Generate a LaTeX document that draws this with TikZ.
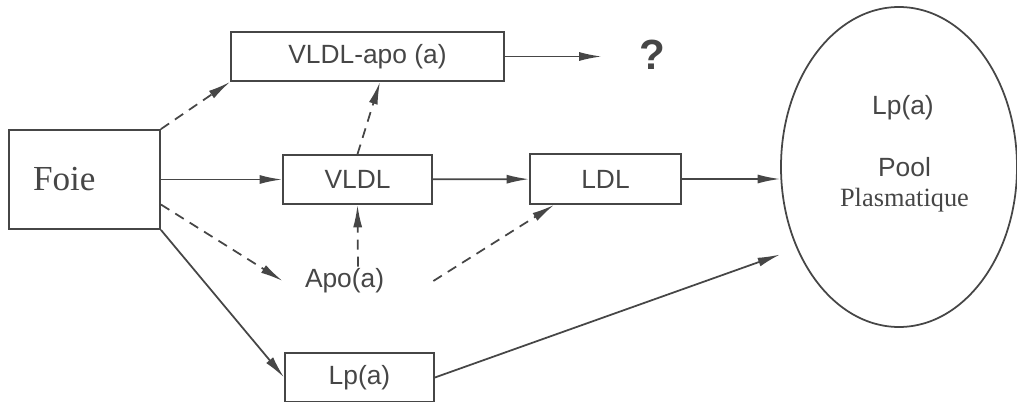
\documentclass[tikz,border=0pt]{standalone}
\usepackage{fontspec}
\setmainfont{Liberation Serif}
\setsansfont{Liberation Sans}
\usetikzlibrary{positioning, arrows.meta, shapes.geometric}
\definecolor{ink}{RGB}{70,70,70}
\tikzset{
block/.style={
  draw=ink, 
  rectangle, 
  line width=1pt,
  minimum height=0.98cm, 
  minimum width=2.98cm, align=center,
  font=\sffamily\fontsize{15}{18}\selectfont, text=ink
  }, 
label/.style={text=ink, font=\sffamily\fontsize{15}{17}\selectfont, align=center},
line/.style={-{Latex[length=4.5mm,width=1.8mm]}, draw=ink, line width=1pt},
dline/.style={line, dash pattern=on 2mm off 1.4mm}
}

\begin{document}
\begin{tikzpicture}
\useasboundingbox (0,0) rectangle (20.34,8.02);
\node[block, minimum height=1.98cm, inner xsep=0.48cm, text width=2.06cm, align=left, font=\rmfamily\fontsize{20}{24}\selectfont] (foie) at (1.69,4.43) {Foie};
\node[block] (vldl) at (7.15,4.43) {VLDL};
\node[block, minimum width=5.46cm] (vldlapo) at (7.35,6.89) {VLDL-apo (a)};
\node[block, minimum width=3.02cm, minimum height=1cm] (ldl) at (12.11,4.44) {LDL};
\node[block] (lpbox) at (7.19,0.47) {Lp(a)};
\node[label, minimum height=0.56cm, inner ysep=0pt, inner xsep=0.44cm, text width=2.12cm, align=left] (apo) at (7.16,2.4) {Apo(a)};
\node[label, font=\sffamily\bfseries\fontsize{24}{28}\selectfont, minimum width=2cm] (quest) at (13.04,6.92) {?};
\node[draw=ink, line width=1pt, ellipse, minimum width=4.72cm, minimum height=6.4cm, inner sep=0pt] (pool) at (17.98,4.68) {};
\node[label] (poolname) at (18.06,5.86) {Lp(a)};
\node[label] (poollabel) at (18.09,4.32) {Pool\\{\rmfamily Plasmatique}};

\draw[dline] (foie.north east) -- (vldlapo.south west);
\draw[line] (foie) -- (vldl);
\draw[dline] ([yshift=-0.5cm]foie.east) -- (apo.west);
\draw[line] (foie.south east) -- (lpbox.west);
\draw[line] (vldlapo.east) -- (vldlapo.east -| quest.west);
\draw[dline] (vldl.north) -- ([xshift=0.25cm]vldlapo.south);
\draw[line] (vldl) -- (ldl);
\draw[dline] (apo.north) -- (vldl.south);
\draw[dline] (apo.east) -- ([xshift=0.5cm]ldl.south west);
\draw[line] (ldl.east) -- (ldl.east -| pool.west);
\draw[line] (lpbox.east) -- ([yshift=-1.75cm]pool.west);
\end{tikzpicture}
\end{document}
